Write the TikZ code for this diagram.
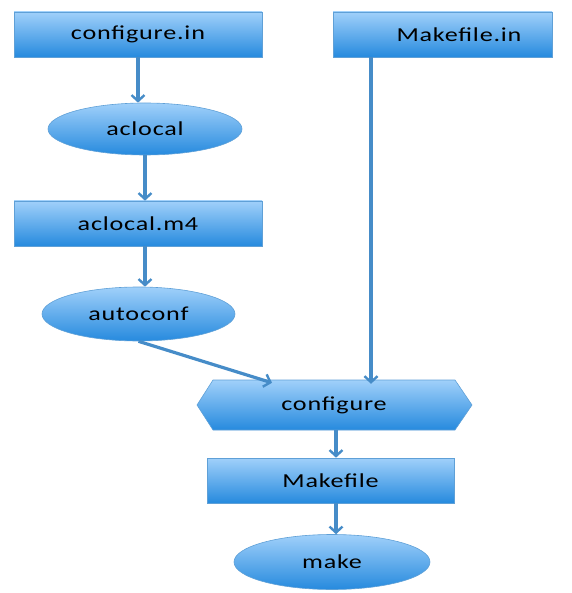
\documentclass[tikz,border=0pt]{standalone}
\usepackage{fontspec}
\setmainfont{Carlito}
\newfontfamily\labelfont[FakeStretch=1.32,LetterSpace=4]{Carlito}
\usetikzlibrary{arrows.meta,calc,shapes.geometric}
\definecolor{boxtop}{RGB}{160,208,250}
\definecolor{boxbot}{RGB}{38,138,222}
\definecolor{boxline}{RGB}{95,160,215}
\definecolor{arrowblue}{RGB}{70,140,200}
\tikzset{
  labeltext/.style={font=\labelfont\fontsize{19.8}{23}\selectfont},
  filebox/.style={rectangle, draw=boxline, line width=0.6pt, top color=boxtop, bottom color=boxbot,
    minimum width=248pt, minimum height=45pt, inner sep=0pt, labeltext},
  toolnode/.style={ellipse, draw=boxline, line width=0.6pt, top color=boxtop, bottom color=boxbot,
    minimum width=194pt, minimum height=52pt, inner sep=0pt, labeltext},
  flow/.style={draw=arrowblue, line width=3.2pt, -{Straight Barb[length=6pt,width=13pt,line width=2.4pt]}},
}
\begin{document}
\begin{tikzpicture}[x=1pt,y=-1pt]
  \useasboundingbox (0,0) rectangle (571,593);
  % input files and tools
  \node[filebox] (cin) at (138,34.5) {configure.in};
  \node[filebox, minimum width=219pt] (min) at (442.5,34.5) {\hspace*{33pt}Makefile.in};
  \node[toolnode] (acl) at (145,129) {aclocal};
  \node[filebox] (m4) at (138,223.5) {aclocal.m4};
  \node[toolnode, minimum height=54pt, minimum width=193pt] (ac) at (138.5,314) {autoconf};
  % generated configure script, drawn as a double chevron
  \coordinate (cfgc) at (334,405);
  \path[top color=boxtop, bottom color=boxbot, draw=boxline, line width=0.6pt]
    (213,380) -- (455,380) -- (472,405) -- (455,430) -- (213,430) -- (197,405) -- cycle;
  \node[minimum width=242pt, minimum height=50pt, inner sep=0pt, labeltext] (cfg) at (cfgc) {configure};
  \node[filebox, minimum width=247pt] (mk) at (330.5,480.5) {Makefile};
  \node[toolnode, minimum width=196pt, minimum height=55pt] (make) at (332,562) {make};
  % connectors
  \draw[flow] (cin.south) -- (cin.south |- acl.north);
  \draw[flow] (acl.south) -- (acl.south |- m4.north);
  \draw[flow] (acl.south |- m4.south) -- (acl.south |- ac.north);
  \draw[flow] (ac.south) -- ([xshift=-62pt,yshift=-3pt]cfg.north);
  \draw[flow] ([xshift=-71.5pt]min.south) -- ([xshift=-71.5pt,yshift=-4pt]min.south |- cfg.north);
  \draw[flow] ([xshift=2pt]cfg.south) -- ([xshift=2pt]cfg.south |- mk.north);
  \draw[flow] ([xshift=5.5pt]mk.south) -- ([xshift=5.5pt]mk.south |- make.north);
\end{tikzpicture}
\end{document}
